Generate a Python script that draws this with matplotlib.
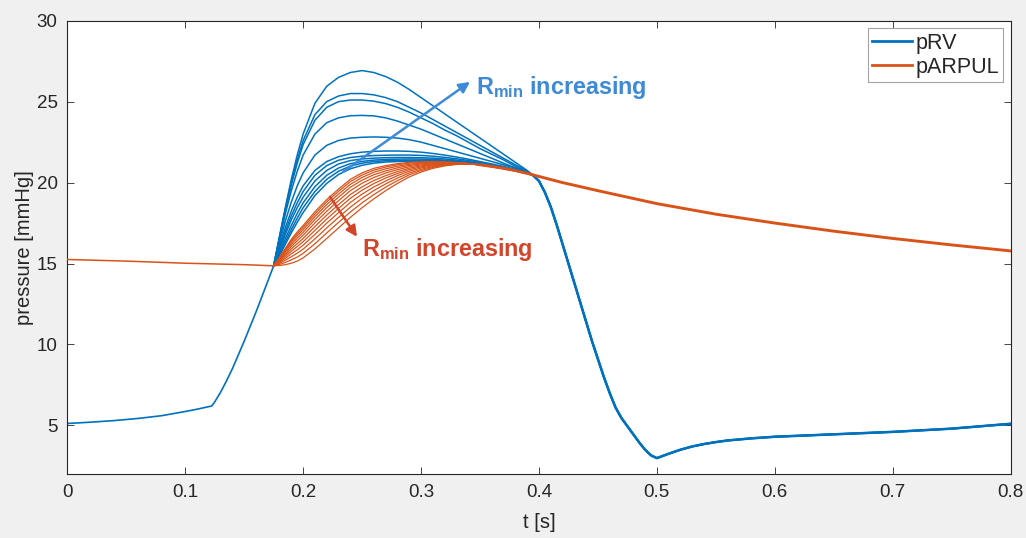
import matplotlib
matplotlib.use("Agg")
import matplotlib.pyplot as plt

plt.rcParams["font.family"] = ["Liberation Sans", "DejaVu Sans"]
plt.rcParams["mathtext.fontset"] = "custom"
plt.rcParams["mathtext.rm"] = "Liberation Sans"
plt.rcParams["mathtext.bf"] = "Liberation Sans:bold"

# ---- diastole before ejection (shared by all runs) ----
t_pre_rv = [0.0, 0.02, 0.04, 0.06, 0.08, 0.10, 0.11, 0.1225, 0.125, 0.13, 0.135, 0.14,
            0.145, 0.15, 0.155, 0.16, 0.165, 0.17, 0.175]
prv_pre = [5.12, 5.2, 5.3, 5.43, 5.6, 5.86, 6.0, 6.2, 6.45, 7.05, 7.75, 8.5,
           9.35, 10.2, 11.1, 12.0, 12.95, 13.9, 14.86]

t_pre_ar = [0.0, 0.05, 0.10, 0.15, 0.175]
parpul_pre = [15.25, 15.15, 15.02, 14.93, 14.86]

# ---- ejection phase, one curve per Rmin value ----
t_ej_rv = [0.175, 0.18, 0.185, 0.19, 0.195, 0.20, 0.21, 0.22, 0.23, 0.24, 0.25, 0.26, 0.27,
           0.28, 0.29, 0.30, 0.31, 0.32, 0.33, 0.34, 0.35, 0.36, 0.37, 0.38, 0.39, 0.395]
prv_ej = [
    [14.86, 16.7, 18.5, 20.2, 21.7, 23.0, 24.9, 25.95, 26.5, 26.8, 26.92, 26.8, 26.55,
     26.2, 25.75, 25.25, 24.75, 24.25, 23.75, 23.25, 22.75, 22.25, 21.75, 21.25, 20.75, 20.45],
    [14.86, 16.65, 18.4, 20.0, 21.4, 22.6, 24.2, 25.0, 25.35, 25.5, 25.5, 25.42, 25.25,
     25.0, 24.65, 24.3, 23.9, 23.5, 23.1, 22.7, 22.3, 21.9, 21.5, 21.1, 20.7, 20.45],
    [14.86, 16.6, 18.3, 19.85, 21.2, 22.35, 23.85, 24.65, 25.0, 25.1, 25.1, 25.03, 24.88,
     24.65, 24.35, 24.0, 23.65, 23.25, 22.9, 22.5, 22.1, 21.75, 21.4, 21.0, 20.65, 20.45],
    [14.86, 16.5, 18.1, 19.5, 20.7, 21.7, 23.0, 23.7, 24.0, 24.13, 24.15, 24.12, 24.0,
     23.8, 23.55, 23.3, 23.0, 22.7, 22.4, 22.1, 21.8, 21.5, 21.2, 20.9, 20.6, 20.45],
    [14.86, 16.3, 17.65, 18.8, 19.8, 20.6, 21.7, 22.3, 22.6, 22.75, 22.8, 22.82, 22.8,
     22.75, 22.65, 22.5, 22.3, 22.1, 21.9, 21.7, 21.5, 21.3, 21.1, 20.9, 20.65, 20.45],
    [14.86, 16.1, 17.25, 18.25, 19.1, 19.8, 20.75, 21.3, 21.6, 21.78, 21.88, 21.93, 21.95,
     21.95, 21.93, 21.88, 21.8, 21.7, 21.58, 21.45, 21.3, 21.15, 21.0, 20.8, 20.6, 20.45],
    [14.86, 15.95, 17.0, 17.95, 18.75, 19.45, 20.45, 21.05, 21.38, 21.55, 21.63, 21.67, 21.69,
     21.7, 21.7, 21.68, 21.63, 21.56, 21.47, 21.37, 21.25, 21.1, 20.95, 20.8, 20.6, 20.45],
    [14.86, 15.85, 16.8, 17.7, 18.45, 19.1, 20.1, 20.75, 21.15, 21.36, 21.46, 21.51, 21.54,
     21.55, 21.55, 21.54, 21.51, 21.46, 21.39, 21.3, 21.18, 21.05, 20.92, 20.77, 20.6, 20.45],
    [14.86, 15.7, 16.55, 17.35, 18.1, 18.75, 19.75, 20.45, 20.9, 21.17, 21.31, 21.39, 21.43,
     21.45, 21.46, 21.45, 21.43, 21.39, 21.33, 21.25, 21.14, 21.02, 20.9, 20.75, 20.58, 20.45],
    [14.86, 15.6, 16.35, 17.1, 17.8, 18.45, 19.45, 20.2, 20.7, 21.02, 21.2, 21.3, 21.35,
     21.37, 21.38, 21.38, 21.37, 21.34, 21.29, 21.21, 21.11, 21.0, 20.88, 20.73, 20.57, 20.45],
    [14.86, 15.5, 16.2, 16.9, 17.55, 18.15, 19.2, 19.95, 20.5, 20.85, 21.07, 21.2, 21.27,
     21.3, 21.32, 21.32, 21.31, 21.29, 21.25, 21.18, 21.09, 20.98, 20.86, 20.72, 20.56, 20.45],
]

t_ej_ar = [0.175, 0.18, 0.185, 0.19, 0.195, 0.20, 0.21, 0.22, 0.23, 0.24, 0.25,
           0.26, 0.27, 0.28, 0.29, 0.30, 0.31, 0.32, 0.33, 0.34, 0.35]
parpul_ej = [
    [14.86, 15.4, 15.95, 16.5, 16.95, 17.35, 18.2, 18.95, 19.6, 20.2, 20.6,
     20.88, 21.05, 21.17, 21.25, 21.28, 21.3, 21.28, 21.24, 21.18, 21.1],
    [14.86, 15.37, 15.89, 16.41, 16.84, 17.23, 18.06, 18.81, 19.46, 20.06, 20.47,
     20.77, 20.96, 21.10, 21.20, 21.24, 21.27, 21.27, 21.23, 21.18, 21.1],
    [14.86, 15.33, 15.82, 16.31, 16.72, 17.09, 17.90, 18.64, 19.29, 19.89, 20.32,
     20.64, 20.85, 21.01, 21.13, 21.20, 21.25, 21.25, 21.22, 21.18, 21.1],
    [14.86, 15.29, 15.74, 16.19, 16.57, 16.93, 17.72, 18.45, 19.10, 19.71, 20.15,
     20.49, 20.72, 20.91, 21.06, 21.15, 21.21, 21.23, 21.22, 21.17, 21.1],
    [14.86, 15.24, 15.64, 16.06, 16.41, 16.75, 17.51, 18.23, 18.88, 19.50, 19.96,
     20.32, 20.59, 20.80, 20.98, 21.09, 21.17, 21.21, 21.20, 21.17, 21.1],
    [14.86, 15.19, 15.54, 15.91, 16.23, 16.55, 17.28, 17.99, 18.64, 19.26, 19.74,
     20.13, 20.43, 20.68, 20.89, 21.03, 21.13, 21.18, 21.19, 21.16, 21.1],
    [14.86, 15.14, 15.44, 15.76, 16.05, 16.35, 17.05, 17.75, 18.40, 19.03, 19.53,
     19.94, 20.28, 20.56, 20.80, 20.97, 21.09, 21.16, 21.18, 21.16, 21.1],
    [14.86, 15.08, 15.33, 15.60, 15.85, 16.13, 16.80, 17.49, 18.14, 18.77, 19.29,
     19.73, 20.10, 20.43, 20.70, 20.90, 21.04, 21.13, 21.17, 21.16, 21.1],
    [14.86, 15.02, 15.21, 15.42, 15.64, 15.89, 16.52, 17.20, 17.85, 18.48, 19.03,
     19.51, 19.92, 20.28, 20.59, 20.82, 20.99, 21.10, 21.15, 21.15, 21.1],
    [14.86, 14.95, 15.07, 15.23, 15.40, 15.63, 16.22, 16.89, 17.54, 18.18, 18.75,
     19.26, 19.72, 20.12, 20.48, 20.74, 20.94, 21.07, 21.14, 21.15, 21.1],
    [14.86, 14.88, 14.93, 15.02, 15.15, 15.35, 15.90, 16.55, 17.20, 17.85, 18.45,
     19.00, 19.50, 19.95, 20.35, 20.65, 20.88, 21.03, 21.12, 21.14, 21.1],
]

# ---- relaxation and late diastole (shared by all runs) ----
t_post_rv = [0.395, 0.40, 0.405, 0.41, 0.415, 0.42, 0.425, 0.43, 0.435, 0.44, 0.445, 0.45,
             0.455, 0.46, 0.465, 0.47, 0.475, 0.48, 0.485, 0.49, 0.495, 0.50, 0.51, 0.52,
             0.53, 0.54, 0.55, 0.56, 0.58, 0.60, 0.65, 0.70, 0.75, 0.80]
prv_post = [20.45, 20.1, 19.4, 18.5, 17.4, 16.2, 15.0, 13.8, 12.6, 11.4, 10.2, 9.1,
            8.0, 7.0, 6.1, 5.45, 4.95, 4.45, 3.95, 3.5, 3.15, 2.98, 3.25, 3.5,
            3.7, 3.85, 3.97, 4.07, 4.2, 4.3, 4.45, 4.6, 4.8, 5.1]

t_post_ar = [0.35, 0.36, 0.37, 0.38, 0.39, 0.40, 0.42, 0.45, 0.50, 0.55, 0.60,
             0.65, 0.70, 0.75, 0.80]
parpul_post = [21.1, 21.0, 20.88, 20.74, 20.57, 20.38, 20.0, 19.5, 18.7, 18.05, 17.5,
               17.0, 16.55, 16.15, 15.78]

x_ticks = [0, 0.1, 0.2, 0.3, 0.4, 0.5, 0.6, 0.7, 0.8]
x_ticklabels = ["0", "0.1", "0.2", "0.3", "0.4", "0.5", "0.6", "0.7", "0.8"]
y_ticks = [5, 10, 15, 20, 25, 30]

C_RV = "#0072bd"
C_AR = "#d95319"
C_ARROW_RV = "#3d8ad6"
C_ARROW_AR = "#d2452b"
AX_COL = "#262626"

fig = plt.figure(figsize=(10.26, 5.38), dpi=100, facecolor="#f0f0f0")
ax = fig.add_axes([0.0656, 0.119, 0.9194, 0.8425])
ax.set_facecolor("white")

# right-ventricular pressure
for curve in prv_ej:
    ax.plot(t_ej_rv, curve, color=C_RV, lw=1.1, zorder=2)
ax.plot(t_pre_rv, prv_pre, color=C_RV, lw=1.2, zorder=2, label="pRV")
for k in range(3):
    ax.plot(t_post_rv, prv_post, color=C_RV, lw=1.8 - 0.25 * k, zorder=2)

# pulmonary arterial pressure
for curve in parpul_ej:
    ax.plot(t_ej_ar, curve, color=C_AR, lw=0.9, zorder=3)
ax.plot(t_pre_ar, parpul_pre, color=C_AR, lw=1.1, zorder=3, label="pARPUL")
ax.plot(t_post_ar, parpul_post, color=C_AR, lw=2.1, zorder=3)

ax.set_xlim(0, 0.8)
ax.set_ylim(2, 30)
ax.set_xticks(x_ticks)
ax.set_xticklabels(x_ticklabels)
ax.set_yticks(y_ticks)

for sp in ax.spines.values():
    sp.set_color(AX_COL)
    sp.set_linewidth(0.8)
ax.tick_params(direction="in", length=5, width=0.6, color=AX_COL,
               labelcolor=AX_COL, labelsize=13.5, top=True, right=True, pad=7)
ax.set_xlabel("t [s]", fontsize=14.5, color=AX_COL, labelpad=9)
ax.set_ylabel("pressure [mmHg]", fontsize=14.5, color=AX_COL, labelpad=2)

# annotation arrows
ax.annotate("", xy=(0.3415, 26.22), xytext=(0.2338, 20.66),
            arrowprops=dict(arrowstyle="-|>", color=C_ARROW_RV, lw=1.8,
                            mutation_scale=16, shrinkA=0, shrinkB=0), zorder=5)
ax.text(0.3466, 25.5, r"$\mathbf{R_{min}}$ increasing", color=C_ARROW_RV,
        fontsize=16.8, fontweight="bold", ha="left", va="baseline", zorder=5)

ax.annotate("", xy=(0.2457, 16.65), xytext=(0.2228, 19.12),
            arrowprops=dict(arrowstyle="-|>", color=C_ARROW_AR, lw=1.8,
                            mutation_scale=16, shrinkA=0, shrinkB=0), zorder=5)
ax.text(0.2499, 15.45, r"$\mathbf{R_{min}}$ increasing", color=C_ARROW_AR,
        fontsize=16.8, fontweight="bold", ha="left", va="baseline", zorder=5)

leg = ax.legend(loc="upper right", fontsize=15.5, frameon=True, fancybox=False,
                borderpad=0.2, handlelength=1.85, handletextpad=0.15,
                labelspacing=0.15, borderaxespad=0.35)
leg.get_frame().set_edgecolor("#8c8c8c")
leg.get_frame().set_linewidth(0.8)
for line in leg.get_lines():
    line.set_linewidth(2.0)
for txt in leg.get_texts():
    txt.set_color(AX_COL)

fig.savefig("out.png", dpi=100, facecolor=fig.get_facecolor())
